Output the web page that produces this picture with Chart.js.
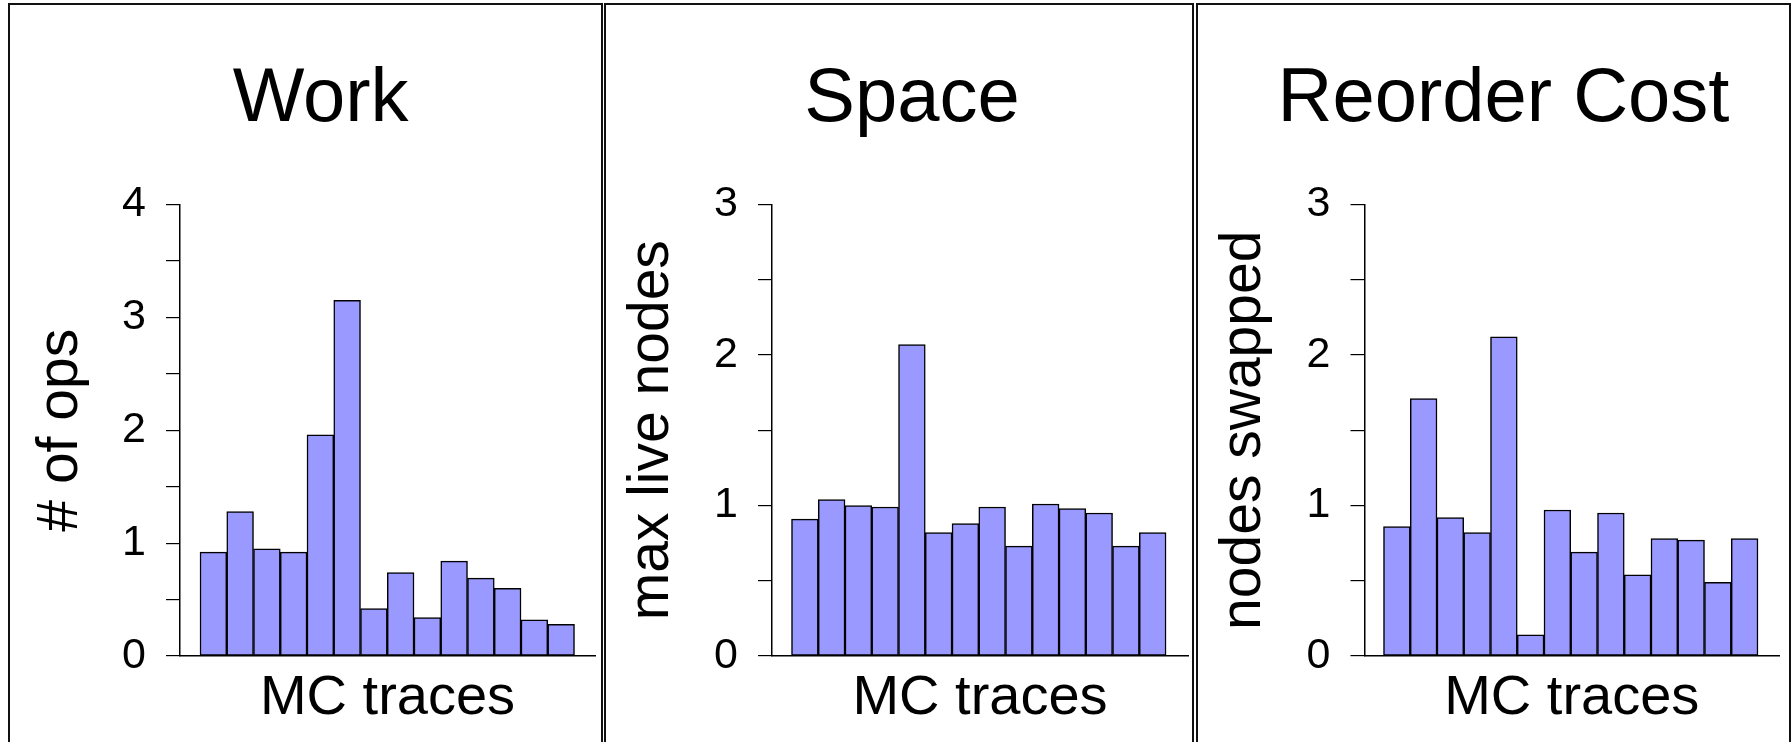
<!DOCTYPE html>
<html>
<head>
<meta charset="utf-8">
<script src="https://cdn.jsdelivr.net/npm/chart.js@4.4.0/dist/chart.umd.min.js"></script>
<style>
  html, body { margin: 0; padding: 0; background: #fff; overflow: hidden; }
  body { width: 1791px; height: 742px; position: relative; }
  .panel { position: absolute; top: 3px; height: 760px; border: 2px solid #111; box-sizing: border-box; }
  .panel canvas { display: block; }
</style>
</head>
<body>
<div class="panel" style="left:8px; width:595px;"><canvas id="chartWork" width="591" height="737"></canvas></div>
<div class="panel" style="left:604px; width:590px;"><canvas id="chartSpace" width="586" height="737"></canvas></div>
<div class="panel" style="left:1196px; width:595px;"><canvas id="chartReorder" width="591" height="737"></canvas></div>
<script>
// MC traces (14 per panel)
const traces = ['1', '2', '3', '4', '5', '6', '7', '8', '9', '10', '11', '12', '13', '14'];
const workOps = [0.92, 1.28, 0.95, 0.92, 1.96, 3.15, 0.42, 0.74, 0.34, 0.84, 0.69, 0.60, 0.32, 0.28];
const spaceNodes = [0.91, 1.04, 1.00, 0.99, 2.07, 0.82, 0.88, 0.99, 0.73, 1.01, 0.98, 0.95, 0.73, 0.82];
const reorderSwaps = [0.86, 1.71, 0.92, 0.82, 2.12, 0.14, 0.97, 0.69, 0.95, 0.54, 0.78, 0.77, 0.49, 0.78];
const workTicks = [0, 1, 2, 3, 4];
const spaceTicks = [0, 1, 2, 3];
const reorderTicks = [0, 1, 2, 3];

const FONT = "'Liberation Sans', Arial, Helvetica, sans-serif";

function makeChart(id, title, yTitle, values, tickLabels, lay) {
  const ctx = document.getElementById(id).getContext('2d');
  const yMax = tickLabels[tickLabels.length - 1];
  return new Chart(ctx, {
    type: 'bar',
    data: {
      labels: traces,
      datasets: [{
        data: values.map((v, i) => ({ x: i + 1, y: v })),
        backgroundColor: '#9999ff',
        borderColor: '#000',
        borderWidth: 1.5,
        borderSkipped: false,
        barPercentage: 1,
        categoryPercentage: 1
      }]
    },
    options: {
      responsive: false,
      animation: false,
      events: [],
      layout: { padding: { left: lay.left, right: lay.right, top: 0, bottom: 0 } },
      plugins: {
        legend: { display: false },
        tooltip: { enabled: false },
        title: {
          display: true,
          text: title,
          color: '#000',
          font: { family: FONT, size: 76, weight: 'normal' },
          padding: { top: 49.4, bottom: 58.9 }
        }
      },
      scales: {
        x: {
          type: 'linear',
          min: lay.xMin,
          max: lay.xMax,
          offset: false,
          ticks: { display: false },
          grid: { display: false },
          border: { display: true, color: '#000', width: 1.5 },
          title: {
            display: true,
            text: 'MC traces',
            color: '#000',
            font: { family: FONT, size: 56 },
            padding: { top: 0, bottom: 9.9 }
          },
          afterFit: s => { s.height = 86; }
        },
        y: {
          min: 0,
          max: yMax,
          ticks: {
            stepSize: 0.5,
            autoSkip: false,
            color: '#000',
            padding: lay.tickPad,
            font: { family: FONT, size: 43 },
            callback: v => tickLabels.includes(v) ? String(v) : ''
          },
          grid: { drawOnChartArea: false, drawTicks: true, tickLength: 14, color: '#000', lineWidth: 1.2 },
          border: { display: true, color: '#000', width: 1.5 },
          title: {
            display: true,
            text: yTitle,
            color: '#000',
            font: { family: FONT, size: 57 },
            padding: { top: lay.titlePad, bottom: 0 }
          },
          afterFit: s => { s.width = lay.yWidth; }
        }
      }
    }
  });
}

makeChart('chartWork', 'Work', '# of ops', workOps, workTicks,
  { left: 36.2, right: 6, yWidth: 133.8, titlePad: -19.4, tickPad: 20, xMin: -0.248, xMax: 15.266 });
makeChart('chartSpace', 'Space', 'max live nodes', spaceNodes, spaceTicks,
  { left: 30, right: 4, yWidth: 136, titlePad: -18.2, tickPad: 20, xMin: -0.229, xMax: 15.32 });
makeChart('chartReorder', 'Reorder Cost', 'nodes swapped', reorderSwaps, reorderTicks,
  { left: 30, right: 10, yWidth: 136.5, titlePad: -18.2, tickPad: 20, xMin: -0.21, xMax: 15.285 });
</script>
</body>
</html>
